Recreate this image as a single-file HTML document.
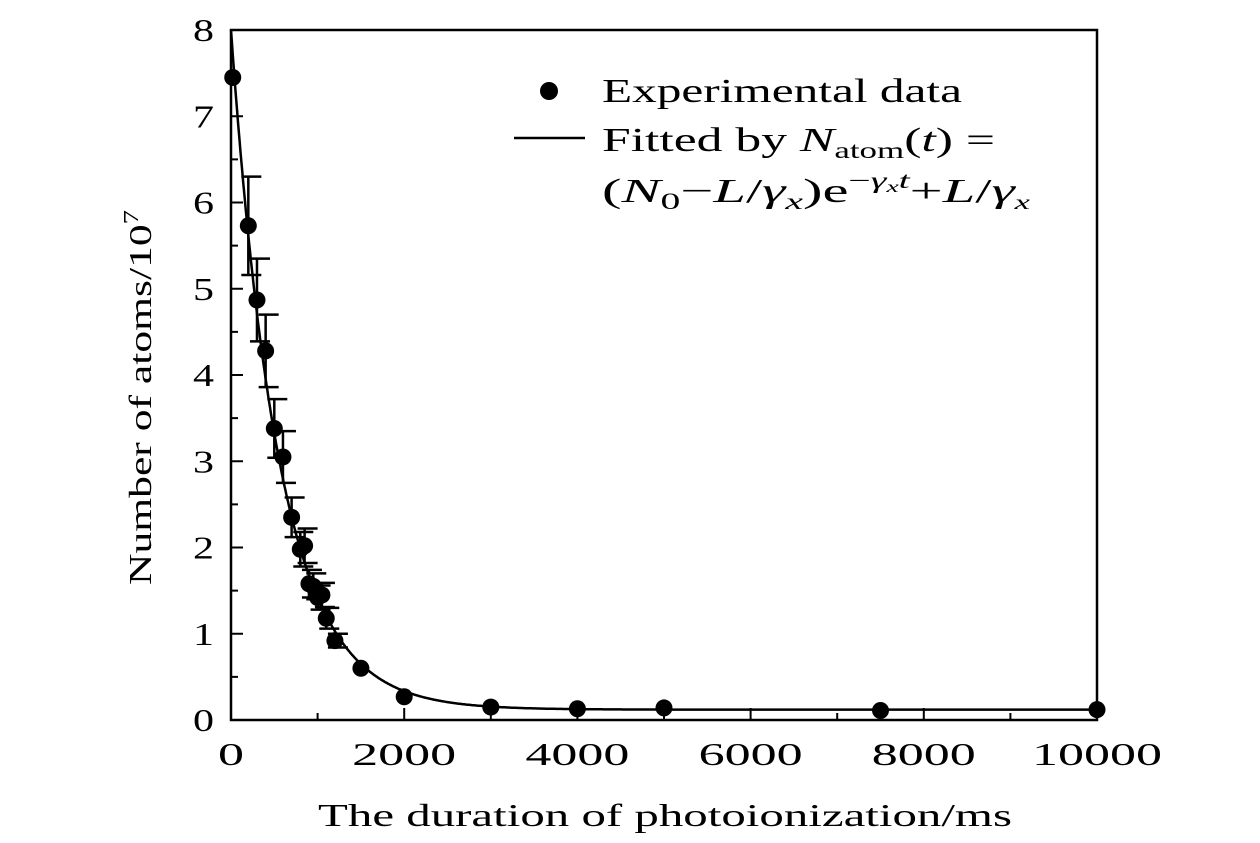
<!DOCTYPE html>
<html><head><meta charset="utf-8"><style>
html,body{margin:0;padding:0;background:#fff;}
svg{display:block;}
text{font-family:"Liberation Serif",serif;fill:#000;}
</style></head><body>
<svg id="chart" width="1260" height="843">
<g id="axes"></g>
<g id="marks"></g>
<g id="legend">
  <circle cx="549" cy="91" r="9"></circle>
  <text x="602" y="102" font-size="34" textLength="360" lengthAdjust="spacingAndGlyphs">Experimental data</text>
  <line x1="514" y1="138" x2="585" y2="138" stroke="#000" stroke-width="2.5"></line>
  <text x="602" y="151" font-size="34" textLength="393" lengthAdjust="spacingAndGlyphs">Fitted by <tspan font-style="italic">N</tspan><tspan font-size="23" dy="7">atom</tspan><tspan dy="-7">(</tspan><tspan font-style="italic">t</tspan>) =</text>
  <text x="602" y="202" font-size="34" textLength="428" lengthAdjust="spacingAndGlyphs">(<tspan font-style="italic">N</tspan><tspan font-size="23" dy="7">0</tspan><tspan dy="-7">−</tspan><tspan font-style="italic">L</tspan>/<tspan font-style="italic">γ</tspan><tspan font-size="23" font-style="italic" dy="7">x</tspan><tspan dy="-7">)e</tspan><tspan font-size="23" dy="-14">−</tspan><tspan font-size="23" font-style="italic">γ</tspan><tspan font-size="16" font-style="italic" dy="4">x</tspan><tspan font-size="23" font-style="italic" dy="-4">t</tspan><tspan dy="14">+</tspan><tspan font-style="italic">L</tspan>/<tspan font-style="italic">γ</tspan><tspan font-size="20" font-style="italic" dy="7">x</tspan></text>
</g>
</svg>
<script>
const times = [20,200,300,400,500,600,700,800,850,900,950,1000,1050,1100,1200,1500,2000,3000,4000,5000,7500,10000];
const atoms = [7.45,5.73,4.87,4.28,3.38,3.05,2.35,1.98,2.02,1.58,1.55,1.42,1.45,1.18,0.92,0.6,0.27,0.15,0.13,0.14,0.11,0.12];
const errors = [0,0.57,0.48,0.42,0.34,0.3,0.23,0.2,0.2,0.16,0.15,0.14,0.14,0.12,0.08,0,0,0,0,0,0,0];
const fitN0 = 8.0, fitC = 0.12, fitG = 0.0018;
const xTicks = [0,2000,4000,6000,8000,10000];
const yTicks = [0,1,2,3,4,5,6,7,8];

const X0=231,X1=1097,Y0=720,Y1=30;
const sx=v=>X0+(v/10000)*(X1-X0);
const sy=v=>Y0-(v/8)*(Y0-Y1);
const NS='http://www.w3.org/2000/svg';
function mk(tag,attrs,parent){const e=document.createElementNS(NS,tag);for(const k in attrs)e.setAttribute(k,attrs[k]);parent.appendChild(e);return e;}
const axes=document.getElementById('axes'),marks=document.getElementById('marks');

const frame=mk('rect',{x:X0,y:Y1,width:X1-X0,height:Y0-Y1,fill:'none',stroke:'#000','stroke-width':2.5},axes);


for(let v=0;v<=10000;v+=1000){
  const major=v%2000===0;
  const t=mk('line',{x1:sx(v),x2:sx(v),y1:Y0,y2:Y0-(major?12:7),stroke:'#000','stroke-width':2},axes);
  
  
}
xTicks.forEach(v=>{
  const s=String(v);
  const t=mk('text',{x:sx(v),y:765,'font-size':32,'text-anchor':'middle',textLength:s.length*26,lengthAdjust:'spacingAndGlyphs'},axes);t.textContent=s;
  
  
});
for(let v=0;v<=8;v+=0.5){
  const major=v%1===0;
  const t=mk('line',{x1:X0,x2:X0+(major?12:7),y1:sy(v),y2:sy(v),stroke:'#000','stroke-width':2},axes);
  
  
}
yTicks.forEach(v=>{
  const t=mk('text',{x:214,y:sy(v)+11,'font-size':32,'text-anchor':'end',textLength:21,lengthAdjust:'spacingAndGlyphs'},axes);t.textContent=v;
  
  
});
const xt=mk('text',{x:318,y:826,'font-size':32,textLength:694,lengthAdjust:'spacingAndGlyphs'},axes);
xt.textContent='The duration of photoionization/ms';


const yt=mk('text',{x:0,y:0,'font-size':32,textLength:375,lengthAdjust:'spacingAndGlyphs',transform:'translate(151,585) rotate(-90)'},axes);
yt.innerHTML='Number of atoms/10<tspan font-size="21" dy="-13">7</tspan>';



let d='';
for(let t=0;t<=10000;t+=10){const n=(fitN0-fitC)*Math.exp(-fitG*t)+fitC;const y=Math.max(sy(n),Y1);d+=(t?'L':'M')+sx(t).toFixed(1)+' '+y.toFixed(1);}
const fit=mk('path',{d:d,fill:'none',stroke:'#000','stroke-width':2.5},marks);



times.forEach((t,i)=>{
  const x=sx(t),y=sy(atoms[i]),e=errors[i];
  if(e>0){
    const g=mk('path',{d:`M${x} ${sy(atoms[i]+e)}V${sy(atoms[i]-e)}M${x-7} ${sy(atoms[i]+e)}H${x+13}M${x-7} ${sy(atoms[i]-e)}H${x+13}`,stroke:'#000','stroke-width':2.5,fill:'none'},marks);
    
    
  }
  const c=mk('ellipse',{cx:x,cy:y,rx:8.5,ry:8.5,fill:'#000'},marks);
  
  
});
</script>
</body></html>
